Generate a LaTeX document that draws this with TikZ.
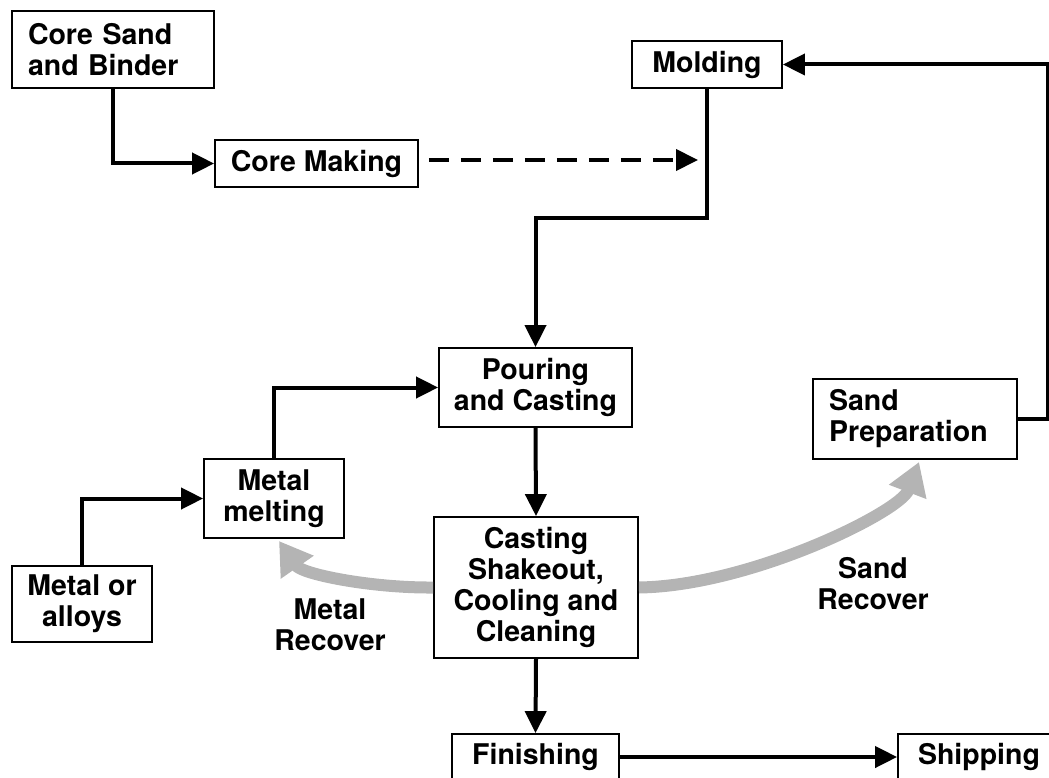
\documentclass[tikz,border=0pt]{standalone}
\usepackage{fontspec}
\setmainfont{TeX Gyre Heros}
\usetikzlibrary{arrows.meta,calc}
\definecolor{recgray}{RGB}{180,180,180}
\tikzset{
  box/.style={draw, line width=1.8pt, fill=white, font=\bfseries\fontsize{28.5}{31}\selectfont, align=center, inner sep=0pt},
  flow/.style={line width=4pt, -{Triangle[length=22pt,width=21pt]}},
  recov/.style={line width=12pt, draw=recgray, -{Triangle[length=32pt,width=38pt]}},
  lbl/.style={font=\bfseries\fontsize{28.5}{31}\selectfont, align=center, inner sep=0pt}
}
\begin{document}
\begin{tikzpicture}[x=1pt,y=-1pt]
\useasboundingbox (0,0) rectangle (1049,778);
\clip (0,0) rectangle (1049,778);
% gray recover arrows (behind boxes)
\coordinate (mtip) at (279,541);
\coordinate (stip) at (919,462);
\node[box, minimum width=204pt, minimum height=141pt] (cast) at (536,587.5) {Casting\\Shakeout,\\Cooling and\\Cleaning};
\node[box, minimum width=140pt, minimum height=79pt] (melt) at (274,498.5) {Metal\\melting};
\node[box, minimum width=204pt, minimum height=80pt, text width=172pt, align=left] (sandp) at (915,419) {Sand\\Preparation};
\draw[recov] (cast.west) .. controls (370,588) and (302,574) .. (mtip);
\draw[recov] (cast.east) .. controls (750,586) and (900,512) .. (stip);
% boxes
\node[box, minimum width=202pt, minimum height=77pt, text width=170pt, align=left] (csb) at (113,49.5) {Core Sand\\and Binder};
\node[box, minimum width=203pt, minimum height=47pt] (cm) at (316.5,163.5) {Core Making};
\node[box, minimum width=150pt, minimum height=47pt] (mold) at (707,64.5) {Molding};
\node[box, minimum width=193pt, minimum height=79pt] (pour) at (535.5,387.5) {Pouring\\and Casting};
\node[box, minimum width=140pt, minimum height=76pt] (alloy) at (82,604) {Metal or\\alloys};
\node[box, minimum width=167pt, minimum height=46pt] (fin) at (535.5,757) {Finishing};
\node[box, minimum width=162pt, minimum height=46pt] (ship) at (979,757) {Shipping};
% labels
\node[lbl] (mlab) at (330,625) {Metal\\Recover};
\node[lbl] (slab) at (873,584) {Sand\\Recover};
% connectors
\coordinate (dashend) at (698,160);
\draw[flow] (csb.south) |- (cm.west);
\draw[flow, dash pattern=on 20pt off 12pt] ($(cm.east)+(10,-3.5)$) -- (dashend);
\draw[flow] (mold.south) -- ++(0,129) -| (pour.north);
\draw[flow] (sandp.east) -- ++(30,0) |- (mold.east);
\draw[flow] (melt.north) |- (pour.west);
\draw[flow] (alloy.north) |- (melt.west);
\draw[flow] (pour.south) -- (cast.north);
\draw[flow] (cast.south) -- (fin.north);
\draw[flow] (fin.east) -- (ship.west);
\end{tikzpicture}
\end{document}
